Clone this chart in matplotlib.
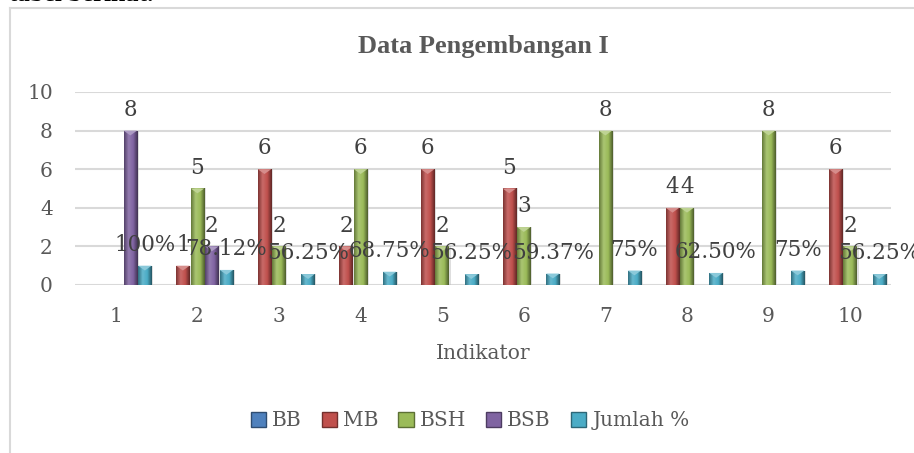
import numpy as np
import matplotlib.pyplot as plt
from matplotlib.patches import Patch, Polygon
from matplotlib.colors import LinearSegmentedColormap, to_rgb
from matplotlib.lines import Line2D

# data
categories = ["1", "2", "3", "4", "5", "6", "7", "8", "9", "10"]
series = ["BB", "MB", "BSH", "BSB", "Jumlah %"]
bb = [0, 0, 0, 0, 0, 0, 0, 0, 0, 0]
mb = [0, 1, 6, 2, 6, 5, 0, 4, 0, 6]
bsh = [0, 5, 2, 6, 2, 3, 8, 4, 8, 2]
bsb = [8, 2, 0, 0, 0, 0, 0, 0, 0, 0]
jumlah = [1.0, 0.7812, 0.5625, 0.6875, 0.5625, 0.5937, 0.75, 0.625, 0.75, 0.5625]
jumlah_labels = ["100%", "78.12%", "56.25%", "68.75%", "56.25%", "59.37%",
                 "75%", "62.50%", "75%", "56.25%"]
colors = ["#4F81BD", "#C0504D", "#9BBB59", "#8064A2", "#4BACC6"]

plt.rcParams['font.family'] = ['DejaVu Serif']

fig = plt.figure(figsize=(9.14, 4.53), dpi=100)
ax = fig.add_axes([75 / 914, 1 - 285 / 453, 816 / 914, 193 / 453])

x = np.arange(len(categories))
step = 0.178
width = 0.165
all_vals = [bb, mb, bsh, bsb, jumlah]


def shade(c, f):
    r = np.array(to_rgb(c))
    if f >= 0:
        return tuple(r + (1 - r) * f)
    return tuple(r * (1 + f))


for i, (name, vals, col) in enumerate(zip(series, all_vals, colors)):
    bars = ax.bar(x + (i - 2) * step, vals, width, color=col, zorder=3, label=name)
    cmap = LinearSegmentedColormap.from_list(
        name, [shade(col, -0.35), shade(col, 0.15), col, shade(col, -0.5)])
    grad = np.linspace(0, 1, 64).reshape(1, -1)
    for b in bars:
        h = b.get_height()
        if h <= 0:
            continue
        x0 = b.get_x()
        w = b.get_width()
        # soft shadow to the right
        ax.bar(x0 + w / 2 + 0.02, h, w, color='#BFBFBF', alpha=0.5, zorder=2.5, lw=0)
        im = ax.imshow(grad, extent=(x0, x0 + w, 0, h), cmap=cmap, aspect='auto',
                       zorder=3.5, origin='lower')
        im.set_clip_path(b)
        # light bevel cap on top of bar
        cap = min(0.25, h)
        ax.add_patch(Polygon([(x0, h), (x0 + w, h), (x0 + w / 2, h - cap)],
                             closed=True, color=shade(col, 0.35), zorder=4, lw=0))

# data labels
for i, vals in enumerate(all_vals[:4]):
    for xi, v in zip(x, vals):
        if v > 0:
            ax.annotate(str(v), (xi + (i - 2) * step, v), xytext=(0, 7),
                        textcoords='offset points', ha='center', va='bottom',
                        fontsize=15.5, color='#404040', zorder=6, annotation_clip=False)
for xi, v, lab in zip(x, jumlah, jumlah_labels):
    ax.annotate(lab, (xi + 2 * step, v), xytext=(0, 7),
                textcoords='offset points', ha='center', va='bottom',
                fontsize=15.5, color='#404040', zorder=6, annotation_clip=False)

ax.set_xlim(-0.5, len(categories) - 0.5)
ax.set_ylim(0, 10)
ax.set_yticks(range(0, 11, 2))
ax.set_xticks(x)
ax.set_xticklabels(categories)
ax.tick_params(length=0, labelsize=14.5, labelcolor='#595959', pad=16)
ax.tick_params(axis='y', pad=16)
ax.grid(axis='y', color='#D9D9D9', lw=1.5, zorder=0)
ax.set_axisbelow(True)
for s in ax.spines.values():
    s.set_visible(False)
ax.set_xlabel("Indikator", fontsize=14.5, color='#595959', labelpad=13)

fig.text(483 / 914, 1 - 46 / 453, "Data Pengembangan I", ha='center', va='center',
         fontsize=19, fontweight='bold', color='#595959', family='Liberation Serif')

handles = [Patch(facecolor=c, edgecolor=shade(c, -0.4), label=s) for s, c in zip(series, colors)]
fig.legend(handles=handles, loc='center', bbox_to_anchor=(470 / 914, 1 - 421 / 453),
           ncol=5, frameon=False, fontsize=14.5, labelcolor='#595959',
           handlelength=0.75, handleheight=0.75, handletextpad=0.3, columnspacing=1.0)

# chart frame (cut off by the screenshot)
fig.add_artist(Line2D([10 / 914, 10 / 914], [0, 1 - 8 / 453], color='#D9D9D9', lw=1.5))
fig.add_artist(Line2D([10 / 914, 1], [1 - 8 / 453, 1 - 8 / 453], color='#D9D9D9', lw=1.5))

# page text above the chart, mostly cut off
fig.text(153 / 914, 1 - 1 / 453, "tabel berikut.", ha='right', va='baseline',
         fontsize=18, fontweight='bold', color='black', family='Liberation Serif')

fig.savefig("out.png", dpi=100)
